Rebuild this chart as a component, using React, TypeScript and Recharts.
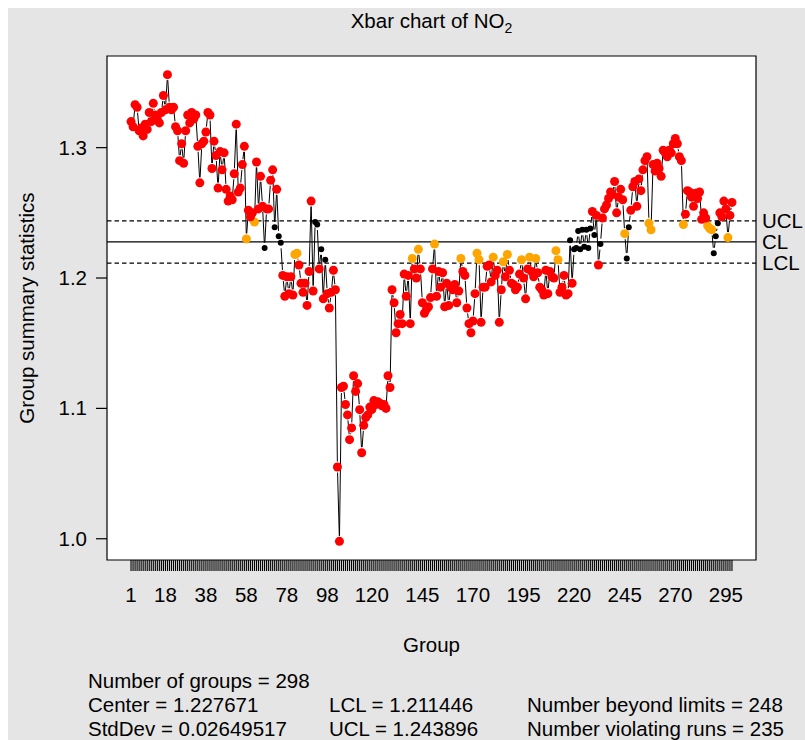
import React from 'react';
import {
  ComposedChart,
  Line,
  Scatter,
  XAxis,
  YAxis,
  ReferenceLine,
  ReferenceArea,
  CartesianGrid,
} from 'recharts';

// Group numbers (categories 1..298)
const groups: number[] = Array.from({ length: 298 }, (_, i) => i + 1);

// Group summary statistics (x-bar)
const values: number[] = [
  1.320, 1.316, 1.333, 1.331, 1.313, 1.315, 1.309, 1.318, 1.314, 1.327,
  1.320, 1.334, 1.325, 1.322, 1.319, 1.327, 1.340, 1.329, 1.356, 1.331,
  1.329, 1.331, 1.316, 1.313, 1.290, 1.303, 1.288, 1.313, 1.325, 1.319,
  1.327, 1.322, 1.325, 1.301, 1.273, 1.303, 1.305, 1.312, 1.327, 1.325,
  1.284, 1.305, 1.294, 1.269, 1.297, 1.283, 1.296, 1.268, 1.259, 1.263,
  1.260, 1.280, 1.318, 1.266, 1.269, 1.287, 1.301, 1.230, 1.252, 1.247,
  1.250, 1.243, 1.289, 1.253, 1.278, 1.255, 1.223, 1.253, 1.253, 1.275,
  1.283, 1.239, 1.268, 1.232, 1.227, 1.202, 1.186, 1.201, 1.188, 1.201,
  1.187, 1.218, 1.219, 1.210, 1.196, 1.189, 1.196, 1.179, 1.205, 1.259,
  1.190, 1.243, 1.241, 1.207, 1.222, 1.184, 1.214, 1.188, 1.177, 1.189,
  1.206, 1.191, 1.055, 0.998, 1.116, 1.117, 1.103, 1.095, 1.076, 1.085,
  1.125, 1.113, 1.119, 1.099, 1.066, 1.087, 1.093, 1.095, 1.101, 1.099,
  1.106, 1.103, 1.105, 1.104, 1.102, 1.103, 1.100, 1.125, 1.116, 1.191,
  1.181, 1.158, 1.165, 1.172, 1.165, 1.203, 1.186, 1.202, 1.165, 1.215,
  1.207, 1.200, 1.222, 1.207, 1.181, 1.173, 1.176, 1.178, 1.185, 1.207,
  1.226, 1.186, 1.205, 1.193, 1.204, 1.178, 1.196, 1.179, 1.193, 1.191,
  1.195, 1.181, 1.190, 1.215, 1.205, 1.202, 1.177, 1.165, 1.158, 1.167,
  1.188, 1.219, 1.214, 1.166, 1.193, 1.193, 1.209, 1.210, 1.197, 1.216,
  1.202, 1.206, 1.166, 1.191, 1.2125, 1.201, 1.218, 1.206, 1.196, 1.195,
  1.191, 1.193, 1.203, 1.214, 1.200, 1.184, 1.207, 1.216, 1.205, 1.201,
  1.215, 1.204, 1.193, 1.191, 1.187, 1.206, 1.188, 1.205, 1.201, 1.200,
  1.221, 1.214, 1.189, 1.193, 1.202, 1.187, 1.188, 1.229, 1.196, 1.222,
  1.223, 1.236, 1.222, 1.237, 1.224, 1.237, 1.223, 1.238, 1.251, 1.233,
  1.248, 1.210, 1.226, 1.246, 1.253, 1.256, 1.261, 1.266, 1.264, 1.274,
  1.250, 1.262, 1.268, 1.260, 1.234, 1.215, 1.239, 1.252, 1.270, 1.274,
  1.255, 1.276, 1.267, 1.283, 1.290, 1.293, 1.242, 1.237, 1.287, 1.282,
  1.288, 1.284, 1.278, 1.298, 1.296, 1.293, 1.298, 1.296, 1.303, 1.307,
  1.303, 1.293, 1.290, 1.241, 1.249, 1.267, 1.266, 1.262, 1.255, 1.265,
  1.261, 1.266, 1.245, 1.250, 1.246, 1.240, 1.238, 1.237, 1.219, 1.232,
  1.242, 1.250, 1.247, 1.259, 1.253, 1.231, 1.248, 1.258,
];

// Control limits
const CENTER = 1.227671;
const LCL = 1.211446;
const UCL = 1.243896;

// Groups flagged as violating runs (orange) while inside the limits
const orangeGroups: number[] = [
  58, 62, 82, 83, 140, 143, 151, 164, 172, 173, 180, 185, 187, 194, 198,
  201, 211, 212, 245, 257, 258, 274, 286, 287, 288, 296,
];

// Axis tick labels
const xTickLabels: number[] = [1, 18, 38, 58, 78, 98, 120, 145, 170, 195, 220, 245, 270, 295];
const yTicks: number[] = [1.0, 1.1, 1.2, 1.3];

const X_DOMAIN: [number, number] = [-10.88, 309.88];
const Y_DOMAIN: [number, number] = [0.9837, 1.3703];

const data = groups.map((g, i) => ({ g, v: values[i] }));
const isBeyond = (v: number) => v > UCL || v < LCL;
const redPts = data.filter((d) => isBeyond(d.v));
const orangePts = data.filter((d) => !isBeyond(d.v) && orangeGroups.includes(d.g));
const blackPts = data.filter((d) => !isBeyond(d.v) && !orangeGroups.includes(d.g));

const FONT = '"Liberation Sans", Arial, Helvetica, sans-serif';
const FS = 20.5;
const GAP = 5.5;

const XTick = (props: any) => {
  const { x, y, payload } = props;
  if (!xTickLabels.includes(payload.value)) return <g />;
  return (
    <text x={x} y={y} dy={29} textAnchor="middle" fontSize={FS} fill="#000" fontFamily={FONT}>
      {payload.value}
    </text>
  );
};

const YTick = (props: any) => {
  const { x, y, payload } = props;
  return (
    <text x={x - 7} y={y} dy={7} textAnchor="end" fontSize={FS} fill="#000" fontFamily={FONT}>
      {Number(payload.value).toFixed(1)}
    </text>
  );
};

// R type="b" style: segment from previous point to this one, with gaps around points
const GapSegment = (props: any) => {
  const { index, points, cx, cy } = props;
  if (!points || index === 0) return <g key={`seg-${index}`} />;
  const prev = points[index - 1];
  const dx = cx - prev.x;
  const dy = cy - prev.y;
  const len = Math.hypot(dx, dy);
  if (len <= 2 * GAP) return <g key={`seg-${index}`} />;
  const ux = dx / len;
  const uy = dy / len;
  return (
    <line
      key={`seg-${index}`}
      x1={prev.x + ux * GAP}
      y1={prev.y + uy * GAP}
      x2={cx - ux * GAP}
      y2={cy - uy * GAP}
      stroke="#000"
      strokeWidth={1}
    />
  );
};

const dotShape = (color: string, r: number) => (p: any) => (
  <circle cx={p.cx} cy={p.cy} r={r} fill={color} stroke="none" />
);

export default function App() {
  return (
    <div
      style={{
        position: 'fixed',
        left: 8,
        top: 8,
        width: 797,
        height: 732,
        background: '#E5E5E5',
        fontFamily: FONT,
        overflow: 'hidden',
      }}
    >
      <ComposedChart
        width={797}
        height={732}
        data={data}
        margin={{ top: 48, right: 49, bottom: 140, left: 39 }}
      >
        <CartesianGrid fill="#FFFFFF" horizontal={false} vertical={false} />
        <XAxis
          type="number"
          dataKey="g"
          domain={X_DOMAIN}
          ticks={groups}
          interval={0}
          tickSize={11}
          tickMargin={2}
          tickLine={{ stroke: '#000', strokeWidth: 1.15 }}
          axisLine={false}
          height={40}
          tick={(p: any) => <XTick {...p} />}
          allowDataOverflow
        />
        <YAxis
          type="number"
          domain={Y_DOMAIN}
          ticks={yTicks}
          interval={0}
          tickSize={11}
          tickMargin={2}
          tickLine={{ stroke: '#000', strokeWidth: 1.2 }}
          axisLine={false}
          width={60}
          tick={(p: any) => <YTick {...p} />}
          allowDataOverflow
        />
        <ReferenceLine
          y={UCL}
          stroke="#000"
          strokeWidth={1.2}
          strokeDasharray="4.5 3"
          label={{ value: 'UCL', position: 'right', fill: '#000', fontSize: FS, offset: 6 }}
        />
        <ReferenceLine
          y={CENTER}
          stroke="#000"
          strokeWidth={1.2}
          label={{ value: 'CL', position: 'right', fill: '#000', fontSize: FS, offset: 6 }}
        />
        <ReferenceLine
          y={LCL}
          stroke="#000"
          strokeWidth={1.2}
          strokeDasharray="4.5 3"
          label={{ value: 'LCL', position: 'right', fill: '#000', fontSize: FS, offset: 6 }}
        />
        <Line
          type="linear"
          dataKey="v"
          stroke="transparent"
          strokeWidth={0}
          dot={(p: any) => <GapSegment key={`seg-${p.index}`} {...p} />}
          activeDot={false}
          isAnimationActive={false}
        />
        <Scatter data={blackPts} dataKey="v" shape={dotShape('#000000', 3)} isAnimationActive={false} />
        <Scatter data={orangePts} dataKey="v" shape={dotShape('#FFA500', 4.5)} isAnimationActive={false} />
        <Scatter data={redPts} dataKey="v" shape={dotShape('#FF0000', 4.5)} isAnimationActive={false} />
        <ReferenceArea
          x1={X_DOMAIN[0]}
          x2={X_DOMAIN[1]}
          y1={Y_DOMAIN[0]}
          y2={Y_DOMAIN[1]}
          fill="none"
          fillOpacity={0}
          stroke="#000"
          strokeWidth={1.2}
          ifOverflow="visible"
        />
      </ComposedChart>
      <svg
        width={797}
        height={732}
        style={{ position: 'absolute', left: 0, top: 0, pointerEvents: 'none' }}
        fontFamily={FONT}
        fontSize={FS}
        fill="#000"
      >
        <text x={423.5} y={20} textAnchor="middle">
          Xbar chart of NO
          <tspan fontSize={14} dy={5}>2</tspan>
        </text>
        <text transform="translate(26,300) rotate(-90)" textAnchor="middle">
          Group summary statistics
        </text>
        <text x={423.5} y={644} textAnchor="middle">Group</text>
        <text x={80} y={680}>Number of groups = 298</text>
        <text x={80} y={704}>Center = 1.227671</text>
        <text x={80} y={728}>StdDev = 0.02649517</text>
        <text x={321} y={704}>LCL = 1.211446</text>
        <text x={321} y={728}>UCL = 1.243896</text>
        <text x={519} y={704}>Number beyond limits = 248</text>
        <text x={519} y={728}>Number violating runs = 235</text>
      </svg>
    </div>
  );
}
